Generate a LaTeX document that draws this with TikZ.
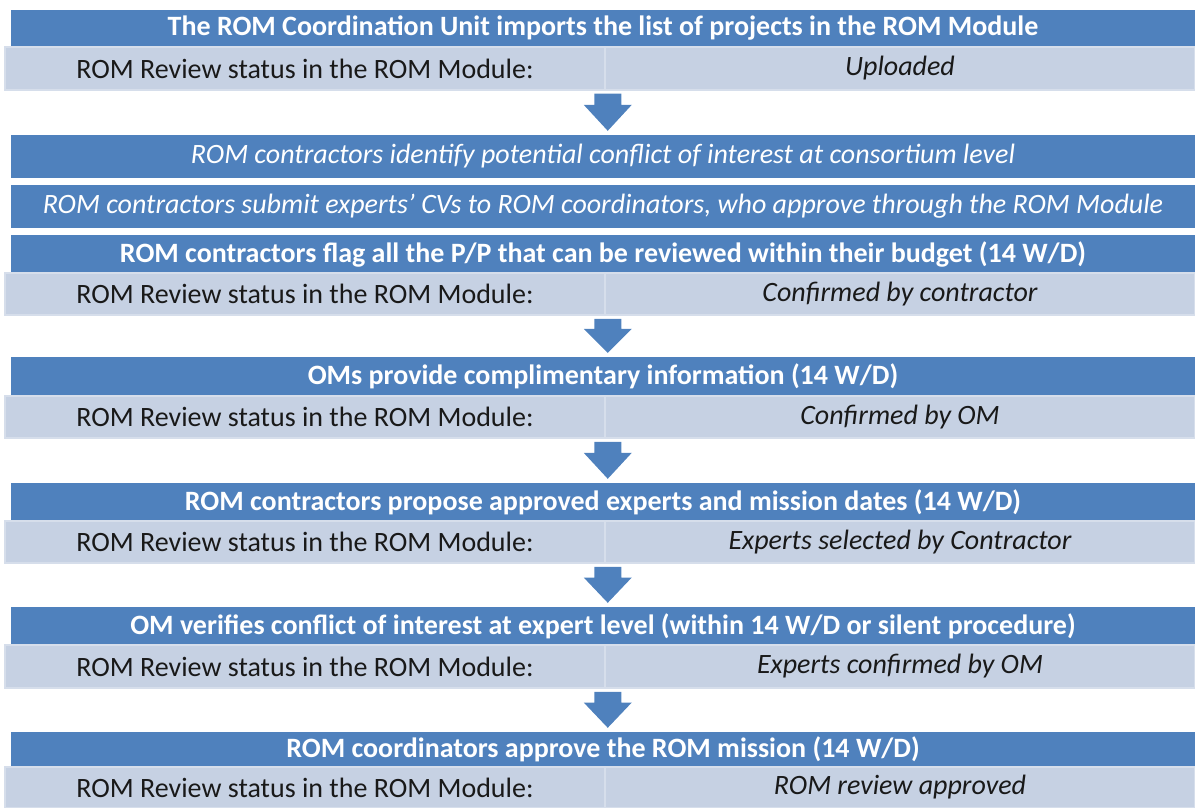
\documentclass[tikz,border=0pt]{standalone}
\usepackage{fontspec}
\setmainfont{Carlito}
\usetikzlibrary{calc}

\definecolor{romblue}{RGB}{79,129,189}
\definecolor{romgrey}{RGB}{198,209,227}
\definecolor{romline}{RGB}{214,222,235}
\definecolor{romtext}{RGB}{25,25,25}

\tikzset{
  stepbar/.style={rectangle, fill=romblue, text=white, inner sep=0pt, minimum width=1184pt, font=\fontsize{28}{31}\selectfont},
  statuscell/.style={rectangle, fill=romgrey, draw=romline, line width=1.5pt, inner sep=0pt, text=romtext, minimum width=600pt, font=\fontsize{28}{31}\selectfont},
  valuecell/.style={statuscell, minimum width=590pt, font=\fontsize{28}{31}\selectfont\itshape}
}

% block arrow from the status row down to the next step
\newcommand{\flowstep}[2]{%
  \fill[romblue] let \p1=($(#1.south east)+(2pt,-3pt)$), \p2=($(#2.north)+(0pt,4pt)$),
    \p3=($(\p1)!0.3!(\p2)$) in
    (\x1-13.5pt,\y1) -- (\x1+13.5pt,\y1) -- (\x1+13.5pt,\y3) -- (\x1+24pt,\y3)
    -- (\x1,\y2) -- (\x1-24pt,\y3) -- (\x1-13.5pt,\y3) -- cycle;
}

\begin{document}
\begin{tikzpicture}[x=1pt,y=-1pt]
  \useasboundingbox (0,0) rectangle (1195,808);

  % step 1
  \node[stepbar, minimum height=37pt, font=\fontsize{28}{31}\selectfont\bfseries] (t1) at (603,28.5) {The ROM Coordination Unit imports the list of projects in the ROM Module};
  \node[statuscell, minimum height=43pt] (s1) at (305,68.5) {ROM Review status in the ROM Module:};
  \node[valuecell, minimum height=43pt] (v1) at (900,68.5) {Uploaded};

  % step 2
  \node[stepbar, minimum height=43pt, font=\fontsize{28}{31}\selectfont\itshape] (t2) at (603,156.5) {ROM contractors identify potential conflict of interest at consortium level};
  \node[stepbar, minimum height=43pt, font=\fontsize{28}{31}\selectfont\itshape] (t3) at (603,206.5) {ROM contractors submit experts' CVs to ROM coordinators, who approve through the ROM Module};
  \node[stepbar, minimum height=38pt, font=\fontsize{28}{31}\selectfont\bfseries] (t4) at (603,254) {ROM contractors flag all the P/P that can be reviewed within their budget (14 W/D)};
  \node[statuscell, minimum height=42pt] (s4) at (305,294) {ROM Review status in the ROM Module:};
  \node[valuecell, minimum height=42pt] (v4) at (900,294) {Confirmed by contractor};

  % step 3
  \node[stepbar, minimum height=39pt, font=\fontsize{28}{31}\selectfont\bfseries] (t5) at (603,376.5) {OMs provide complimentary information (14 W/D)};
  \node[statuscell, minimum height=42pt] (s5) at (305,417) {ROM Review status in the ROM Module:};
  \node[valuecell, minimum height=42pt] (v5) at (900,417) {Confirmed by OM};

  % step 4
  \node[stepbar, minimum height=38pt, font=\fontsize{28}{31}\selectfont\bfseries] (t6) at (603,502) {ROM contractors propose approved experts and mission dates (14 W/D)};
  \node[statuscell, minimum height=42pt] (s6) at (305,542) {ROM Review status in the ROM Module:};
  \node[valuecell, minimum height=42pt] (v6) at (900,542) {Experts selected by Contractor};

  % step 5
  \node[stepbar, minimum height=38pt, font=\fontsize{28}{31}\selectfont\bfseries] (t7) at (603,626) {OM verifies conflict of interest at expert level (within 14 W/D or silent procedure)};
  \node[statuscell, minimum height=43pt] (s7) at (305,666.5) {ROM Review status in the ROM Module:};
  \node[valuecell, minimum height=43pt] (v7) at (900,666.5) {Experts confirmed by OM};

  % step 6
  \node[stepbar, minimum height=35pt, font=\fontsize{28}{31}\selectfont\bfseries] (t8) at (603,749.5) {ROM coordinators approve the ROM mission (14 W/D)};
  \node[statuscell, minimum height=41pt] (s8) at (305,787.5) {ROM Review status in the ROM Module:};
  \node[valuecell, minimum height=41pt] (v8) at (900,787.5) {ROM review approved};

  \flowstep{s1}{t2}
  \flowstep{s4}{t5}
  \flowstep{s5}{t6}
  \flowstep{s6}{t7}
  \flowstep{s7}{t8}
\end{tikzpicture}
\end{document}
